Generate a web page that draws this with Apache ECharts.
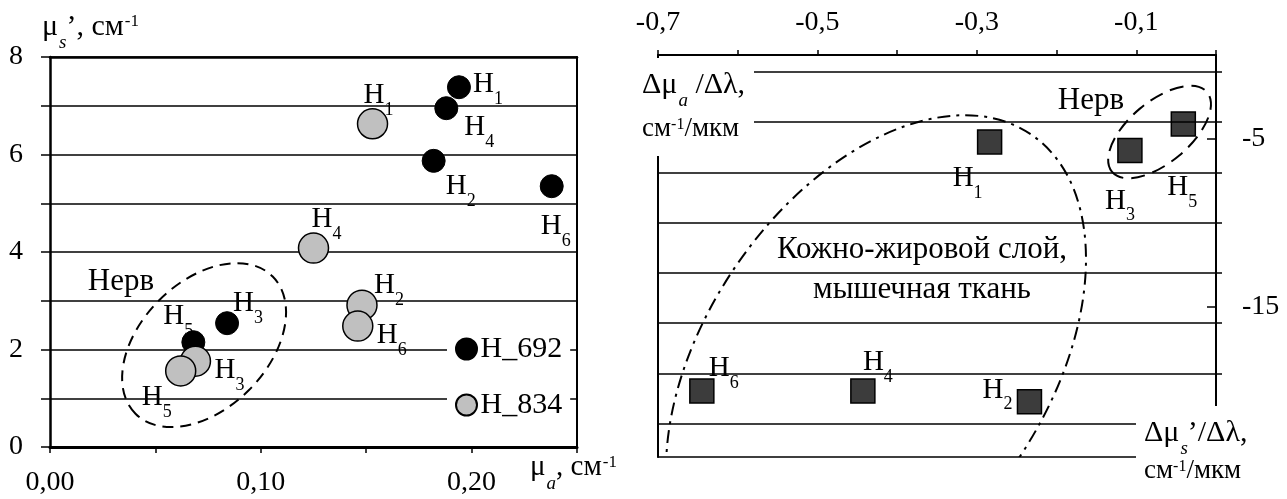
<!DOCTYPE html>
<html><head><meta charset="utf-8">
<script src="https://cdn.jsdelivr.net/npm/echarts@6/dist/echarts.min.js"></script>
<style>html,body{margin:0;padding:0;background:#fff}#c{width:1287px;height:499px}</style>
</head><body><div id="c"></div>
<script>
// ---------- data ----------
const sampleIds = ['1', '2', '3', '4', '5', '6'];           // H1..H6
// left chart: mu_a (cm^-1), mu_s' (cm^-1)
const h692MuA = [0.194, 0.182, 0.084, 0.188, 0.068, 0.238];
const h692MuS = [7.38, 5.87, 2.54, 6.95, 2.15, 5.35];
const h834MuA = [0.153, 0.148, 0.069, 0.125, 0.062, 0.146];
const h834MuS = [6.63, 2.91, 1.76, 4.08, 1.56, 2.48];
// right chart: d mu_a / d lambda, d mu_s' / d lambda
const dMuA = [-0.284, -0.234, -0.108, -0.443, -0.041, -0.645];
const dMuS = [-5.19, -20.70, -5.70, -20.06, -4.12, -20.06];
// tick labels
const leftXLabels = [0, 0.1, 0.2];
const leftYLabels = [0, 2, 4, 6, 8];
const rightXLabels = [-0.7, -0.5, -0.3, -0.1];
const rightYLabels = [-5, -15];
const rightGridValues = [-1, -4, -7, -10, -13, -16, -19, -22];
// annotation ellipse centres (data units)
const nerveLeftCenter = [0.0731, 2.09];
const nerveRightCenter = [-0.0708, -4.6];
const tissueCenter = [-0.4265, -18.45];

// ---------- styling / layout ----------
const F = "'Liberation Serif','Times New Roman',serif";
const off692 = [[29, -3], [27, 25], [21, -20], [33, 19], [-15, -26], [4, 40]];
const off834 = [[6, -29], [27, -20], [34, 9], [13, -29], [-24, 26], [34, 9]];
const offRight = [[-22, 36], [-32, -12], [-10, 50], [15, -29], [-1, 63], [22, -23]];

const labelRich = {
  h: {fontSize: 29, fontFamily: F, color: '#000', lineHeight: 28, verticalAlign: 'top'},
  s: {fontSize: 18, fontFamily: F, color: '#000', lineHeight: 18, padding: [20, 0, 0, 0], verticalAlign: 'top'}
};
function pts(xs, ys, offs) {
  return xs.map((x, i) => ({value: [x, ys[i]], label: {offset: offs[i]}}));
}
const pointLabel = {
  show: true, position: 'inside', color: '#000', textBorderWidth: 0,
  formatter: p => '{h|H}{s|' + sampleIds[p.dataIndex] + '}', rich: labelRich
};
function ellipse(xi, yi, c, rx, ry, ang, dash) {
  return {
    type: 'custom', xAxisIndex: xi, yAxisIndex: yi, clip: true, silent: true, z: 1,
    data: [c],
    renderItem: (params, api) => {
      const p = api.coord([api.value(0), api.value(1)]);
      return {type: 'ellipse', x: p[0], y: p[1], rotation: ang * Math.PI / 180,
        shape: {cx: 0, cy: 0, rx: rx, ry: ry},
        style: {fill: 'none', stroke: '#000', lineWidth: 2, lineDash: dash}};
    }
  };
}
const lineOnly = (w) => ({show: true, onZero: false, lineStyle: {color: '#000', width: w}});
const txt = {fontSize: 28, fontFamily: F, color: '#000'};
const big = {fontSize: 31, fontFamily: F, color: '#000'};
const titleRich = (fs) => ({
  m: {fontSize: fs, fontFamily: F, color: '#000', lineHeight: 30, verticalAlign: 'top'},
  s: {fontSize: 19, fontStyle: 'italic', fontFamily: F, color: '#000', lineHeight: 18, padding: [21, 0, 0, 1], verticalAlign: 'top'},
  p: {fontSize: 17, fontFamily: F, color: '#000', lineHeight: 17, verticalAlign: 'top', padding: [1, 0, 0, 1]}
});
const unitRich = {
  m: {fontSize: 27, fontFamily: F, color: '#000', lineHeight: 28, verticalAlign: 'top'},
  p: {fontSize: 16, fontFamily: F, color: '#000', lineHeight: 16, verticalAlign: 'top', padding: [2, 0, 0, 0]}
};

const option = {
  animation: false,
  backgroundColor: '#fff',
  grid: [
    {left: 50, right: 710, top: 57, bottom: 52},
    {left: 658, right: 71, top: 55, bottom: 42}
  ],
  xAxis: [
    {gridIndex: 0, type: 'value', position: 'bottom', min: 0, max: 0.25, interval: 0.05,
      axisLine: lineOnly(3),
      axisTick: {show: true, inside: false, length: 6, lineStyle: {color: '#000', width: 1.5}},
      axisLabel: {customValues: leftXLabels, margin: 22, ...txt,
        formatter: v => v.toFixed(2).replace('.', ',')},
      splitLine: {show: false}},
    {gridIndex: 0, type: 'value', position: 'top', min: 0, max: 0.25,
      axisLine: lineOnly(2.5), axisTick: {show: false}, axisLabel: {show: false}, splitLine: {show: false}},
    {gridIndex: 1, type: 'value', position: 'top', min: -0.7, max: 0, interval: 0.1,
      axisLine: lineOnly(2),
      axisTick: {show: true, inside: false, length: 5, lineStyle: {color: '#000', width: 1.5}},
      axisLabel: {customValues: rightXLabels, margin: 18, ...txt,
        formatter: v => v.toFixed(1).replace('.', ',')},
      splitLine: {show: false}},
    {gridIndex: 1, type: 'value', position: 'bottom', min: -0.7, max: 0,
      axisLine: lineOnly(1.5), axisTick: {show: false}, axisLabel: {show: false}, splitLine: {show: false}}
  ],
  yAxis: [
    {gridIndex: 0, type: 'value', position: 'left', min: 0, max: 8, interval: 1,
      axisLine: lineOnly(2.5),
      axisTick: {show: true, inside: false, length: 9, lineStyle: {color: '#000', width: 1.5}},
      axisLabel: {customValues: leftYLabels, margin: 27, ...txt},
      splitLine: {show: true, lineStyle: {color: '#000', width: 1.5}}},
    {gridIndex: 0, type: 'value', position: 'right', min: 0, max: 8,
      axisLine: lineOnly(2), axisTick: {show: false}, axisLabel: {show: false}, splitLine: {show: false}},
    {gridIndex: 1, type: 'value', position: 'right', min: -24, max: 0,
      axisLine: lineOnly(2),
      axisTick: {show: true, inside: true, length: 9, customValues: rightYLabels, lineStyle: {color: '#000', width: 1.5}},
      axisLabel: {customValues: rightYLabels, margin: 26, ...txt},
      splitLine: {show: false}},
    {gridIndex: 1, type: 'value', position: 'left', min: -24, max: 0,
      axisLine: lineOnly(2), axisTick: {show: false}, axisLabel: {show: false}, splitLine: {show: false}},
    {gridIndex: 1, type: 'value', position: 'right', min: -24, max: 0,
      axisLine: {show: false, onZero: false},
      axisTick: {show: true, inside: false, length: 6, customValues: rightGridValues, lineStyle: {color: '#000', width: 1.5}},
      axisLabel: {show: false}, splitLine: {show: false}}
  ],
  legend: {
    orient: 'vertical', left: 447, top: 324, backgroundColor: '#fff',
    padding: [10, 8, 10, 8], itemGap: 26, itemWidth: 22, itemHeight: 21,
    textStyle: {fontSize: 30, fontFamily: F, color: '#000', lineHeight: 28, padding: [0, 0, 0, -2]},
    data: [{name: 'H_692', icon: 'circle'}, {name: 'H_834', icon: 'circle'}]
  },
  series: [
    ellipse(0, 0, nerveLeftCenter, 97, 63.5, 45, [11, 7]),
    ellipse(2, 2, nerveRightCenter, 62, 30.6, 40, [14, 8]),
    ellipse(2, 2, tissueCenter, 277, 171, 56, [13, 6, 3, 6]),
    {name: 'H_692', type: 'scatter', xAxisIndex: 0, yAxisIndex: 0, symbol: 'circle', symbolSize: 23,
      itemStyle: {color: '#000', borderColor: '#000', borderWidth: 1, opacity: 1},
      label: pointLabel, data: pts(h692MuA, h692MuS, off692), z: 3},
    {name: 'H_834', type: 'scatter', xAxisIndex: 0, yAxisIndex: 0, symbol: 'circle', symbolSize: 30,
      itemStyle: {color: '#c0c0c0', borderColor: '#000', borderWidth: 1.5, opacity: 1},
      label: pointLabel, data: pts(h834MuA, h834MuS, off834), z: 4},
    {name: 'deriv', type: 'scatter', xAxisIndex: 2, yAxisIndex: 2, symbol: 'rect', symbolSize: 24,
      itemStyle: {color: '#3c3c3c', borderColor: '#000', borderWidth: 1.5, opacity: 1},
      label: pointLabel, data: pts(dMuA, dMuS, offRight), z: 3,
      markLine: {silent: true, symbol: 'none', label: {show: false}, animation: false,
        lineStyle: {color: '#000', width: 1.5, type: 'solid'},
        data: rightGridValues.map(v => ({yAxis: v}))}}
  ],
  graphic: [
    {type: 'text', left: 42, top: 12, z: 100, style: {
      text: '{m|μ}{s|s}{m|’, см}{p|-1}', rich: titleRich(30)}},
    {type: 'text', left: 530, top: 453, z: 100, style: {
      text: '{m|μ}{s|a}{m|, см}{p|-1}', rich: titleRich(29)}},
    {type: 'text', x: 121, y: 282, z: 100, style: {text: 'Нерв', ...big, align: 'center', verticalAlign: 'middle'}},
    {type: 'text', x: 1091, y: 101, z: 100, style: {text: 'Нерв', ...big, align: 'center', verticalAlign: 'middle'}},
    {type: 'text', x: 922, y: 250, z: 100, style: {text: 'Кожно-жировой слой,', ...big, align: 'center', verticalAlign: 'middle'}},
    {type: 'text', x: 922, y: 290, z: 100, style: {text: 'мышечная ткань', ...big, align: 'center', verticalAlign: 'middle'}},
    {type: 'rect', z: 99, shape: {x: 636, y: 58, width: 118, height: 98}, style: {fill: '#fff'}},
    {type: 'text', left: 642, top: 70, z: 100, style: {
      text: '{m|Δμ}{s|a}{m| /Δλ,}', rich: titleRich(30)}},
    {type: 'text', left: 642, top: 115, z: 100, style: {
      text: '{m|см}{p|-1}{m|/мкм}', rich: unitRich}},
    {type: 'rect', z: 99, shape: {x: 1136, y: 406, width: 151, height: 93}, style: {fill: '#fff'}},
    {type: 'text', left: 1144, top: 418, z: 100, style: {
      text: '{m|Δμ}{s|s}{m|’/Δλ,}', rich: titleRich(30)}},
    {type: 'text', left: 1144, top: 457, z: 100, style: {
      text: '{m|см}{p|-1}{m|/мкм}', rich: unitRich}}
  ]
};
const chart = echarts.init(document.getElementById('c'), null, {renderer: 'canvas'});
chart.setOption(option);
</script>
</body></html>
